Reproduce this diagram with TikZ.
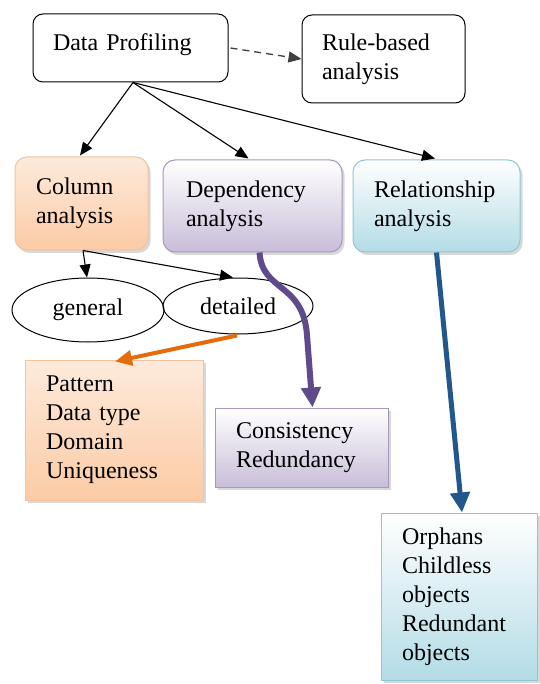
\documentclass[tikz,border=0pt]{standalone}
\usepackage{fontspec}
\setmainfont{Liberation Serif}
\usetikzlibrary{arrows.meta,shapes.geometric,shadows,calc}
\definecolor{orfill}{HTML}{FBCBA5}
\definecolor{orline}{HTML}{F4C29B}
\definecolor{pufill}{HTML}{C9BDD9}
\definecolor{puline}{HTML}{A897C0}
\definecolor{cyfill}{HTML}{B3DCE6}
\definecolor{cyline}{HTML}{8FC6D6}
\definecolor{orarrow}{HTML}{E46C0A}
\definecolor{puarrow}{HTML}{5F4A8B}
\definecolor{bluearrow}{HTML}{22578E}
\tikzset{
  every node/.style={font=\fontsize{24}{29}\selectfont},
  plain/.style={draw=black, line width=1pt, rounded corners=10pt, align=left, inner xsep=20pt, inner ysep=0pt},
  orbox/.style={draw=orline, line width=1pt, top color=white!60!orfill, bottom color=orfill, align=left, inner xsep=21pt, inner ysep=0pt},
  pubox/.style={draw=puline, line width=1pt, top color=white, bottom color=pufill, align=left, inner xsep=23pt, inner ysep=0pt},
  cybox/.style={draw=cyline, line width=1pt, top color=white, bottom color=cyfill, align=left, inner xsep=21pt, inner ysep=0pt},
  soft/.style={drop shadow={shadow xshift=2.5pt, shadow yshift=-3pt, opacity=0.3}},
  oval/.style={draw=black, line width=1pt, ellipse, inner sep=0pt},
  conn/.style={draw=black, line width=1.1pt, -{Triangle[length=13pt,width=11pt]}},
}
\begin{document}
\begin{tikzpicture}[x=1pt,y=-1pt]
\useasboundingbox[fill=white] (0,0) rectangle (539,684);
% top row
\node[plain, text width=155pt, minimum width=195pt, minimum height=68pt, text depth=11pt] (dp) at (130.5,48) {Data Profiling};
\node[plain, text width=123pt, minimum width=163pt, minimum height=88pt] (rb) at (383.5,59) {Rule-based\\analysis};
% second row
\node[orbox, soft, rounded corners=12pt, text width=91pt, minimum width=133pt, minimum height=93pt] (col) at (81.5,203.5) {Column\\analysis};
\node[pubox, soft, rounded corners=12pt, text width=133pt, minimum width=179pt, minimum height=92pt] (dep) at (252.5,206) {Dependency\\analysis};
\node[cybox, soft, rounded corners=12pt, text width=125pt, minimum width=167pt, minimum height=92pt] (rel) at (436.5,206) {Relationship\\analysis};
% ellipses
\node[oval, minimum width=152pt, minimum height=64pt] (gen) at (88,310) {general};
\node[oval, minimum width=150pt, minimum height=56pt] (det) at (238,306) {detailed};
% result boxes
\node[orbox, soft, text width=136pt, minimum width=178pt, minimum height=140pt] (pat) at (114,430) {Pattern\\Data type\\Domain\\Uniqueness};
\node[pubox, soft, inner xsep=21pt, text width=131pt, minimum width=173pt, minimum height=79pt] (con) at (301.5,447.5) {Consistency\\Redundancy};
\node[cybox, soft, text width=114pt, minimum width=156pt, minimum height=167pt] (orp) at (459,596.5) {Orphans\\Childless\\objects\\Redundant\\objects};
% connectors
\coordinate (dpb) at ($(dp.south)+(2.5,0)$);
\draw[conn, line width=1.3pt, dash pattern=on 7pt off 5pt, draw=black!75] ($(dp.east)+(2,0)$) -- (rb.west);
\draw[conn] (dpb) -- ($(col.north)+(-1.5,-1)$);
\draw[conn] (dpb) -- ($(dep.north)+(-4,-1)$);
\draw[conn] (dpb) -- ($(rel.north)+(-1.5,-1)$);
\coordinate (colb) at ($(col.south)+(1.5,0)$);
\draw[conn] (colb) -- ($(gen.north)+(-1,0)$);
\draw[conn] (colb) -- ($(det.north)+(-5,0)$);
\draw[draw=orarrow, line width=4pt, -{Triangle[length=17pt,width=15pt]}] ($(det.south)+(-1,1)$) -- ($(pat.north)+(1,2)$);
\draw[draw=puarrow, line width=6pt, -{Triangle[length=20pt,width=19pt]}] ($(dep.south)+(7,0)$) .. controls (262,292) and (303,282) .. (307,335) -- ($(con.north)+(11,0)$);
\draw[draw=bluearrow, line width=5pt, -{Triangle[length=20pt,width=19pt]}] ($(rel.south)+(0,0)$) -- ($(orp.north)+(3,0)$);
\end{tikzpicture}
\end{document}
